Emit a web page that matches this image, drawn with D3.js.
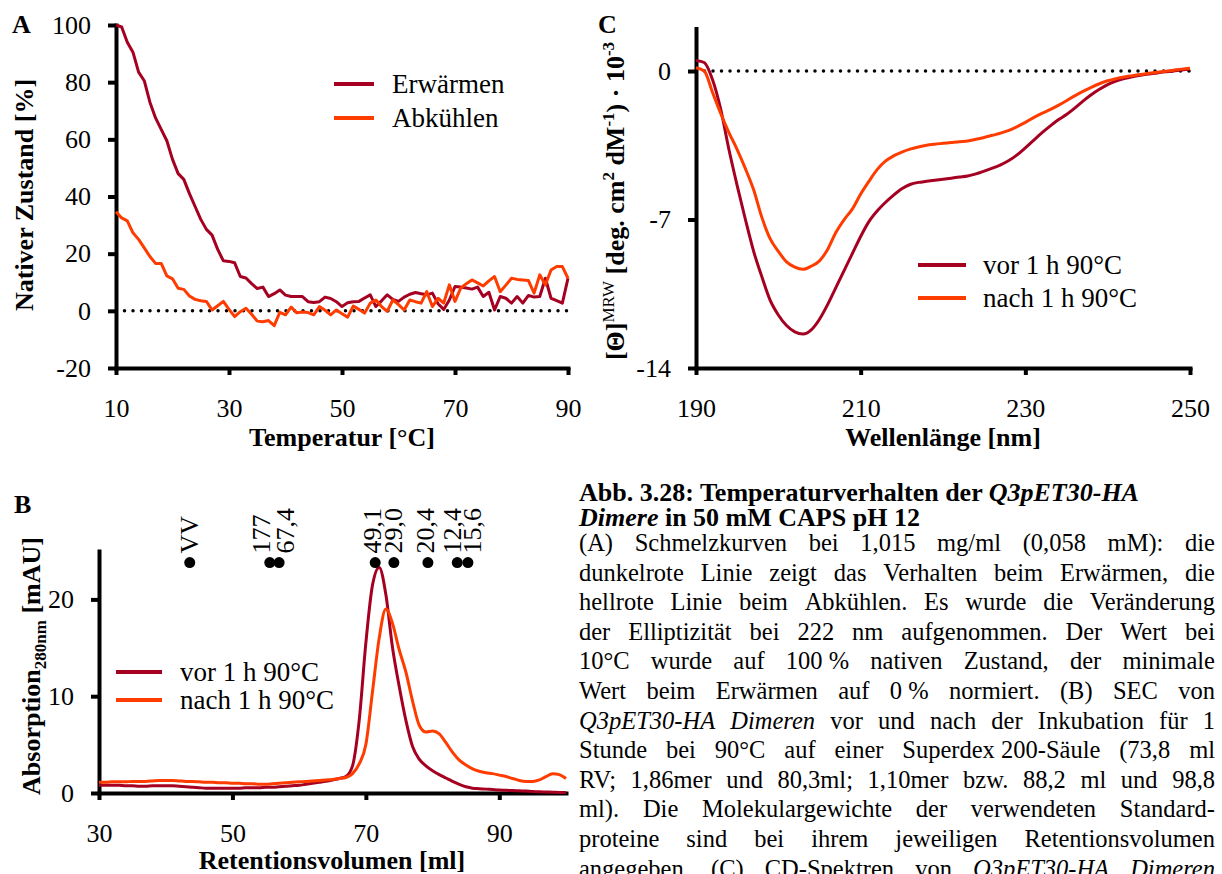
<!DOCTYPE html>
<html>
<head>
<meta charset="utf-8">
<script src="https://cdn.jsdelivr.net/npm/d3@7"></script>
<style>
  body { margin: 0; background: #fff; }
  svg { display: block; font-family: "Liberation Serif", "Times New Roman", serif; }
</style>
</head>
<body>
<svg id="fig" width="1222" height="874"></svg>
<script>
// ---- panel A: melting curves ----
const tempA = [10,11,12,13,14,15,16,17,18,19,20,21,22,23,24,25,26,27,28,29,30,31,32,33,34,35,36,37,38,39,
  40,41,42,43,44,45,46,47,48,49,50,51,52,53,54,55,56,57,58,59,60,61,62,63,64,65,66,67,68,69,
  70,71,72,73,74,75,76,77,78,79,80,81,82,83,84,85,86,87,88,89,90];
const warmA = [100,99.3,94,90.5,83.5,80.5,73,67.5,63.5,59.5,
  53,48,46,41,36.5,32,28.5,26.5,21.5,17.5,
  17.3,16.8,12,11.5,9.5,7.8,8.3,5,6,7.3,
  5.5,5,5,5,3.2,2.9,3.2,4.8,4.3,3.2,
  1.5,2.8,3.2,3.3,4.5,5.6,1.5,3.5,5.6,4,
  3.3,4.8,5.8,6.4,6,5.6,6.2,2.5,0.5,3.8,
  8.5,8.3,8,7.6,8.3,5,6.5,0.3,5,4.4,
  2.7,5,2.7,5.4,4.8,5,11.4,4.4,3.6,2.7,
  11.4];
const coolA = [34.7,32.5,31.5,27.3,25,22,19,16.6,16.6,12.2,
  11.2,7.9,7.5,5.2,4,3.5,3.3,0.3,1.8,3.3,
  0.5,-2,-0.3,0.9,-1.2,-3.6,-3.8,-3.4,-5.2,-0.5,
  -1.4,1.3,-0.7,-0.4,-0.6,-1.4,1.5,0.2,-1.4,0.3,
  -1,-2.2,1.7,0.5,-0.8,2.7,3.8,1.5,-0.2,3.8,
  2.2,0.3,3.8,3.2,2.7,6.7,1.5,4.4,2.7,9.1,
  3.3,7.9,9.5,10.8,9.8,8.7,10.5,12,6.7,9,
  11.4,11,10.8,10.6,6.2,12.6,9.1,14.3,15.5,15.5,
  11.4];
const ticksAx = [10,30,50,70,90];
const ticksAy = [-20,0,20,40,60,80,100];
const legendA = ["Erwärmen","Abkühlen"];

// ---- panel C: CD spectra ----
const wlC = [190,191,192,193,194,195,196,197,198,199,200,201,202,203,204,205,206,207,208,209,
  210,211,212,213,214,215,216,217,218,219,220,221,222,223,224,225,226,227,228,229,
  230,231,232,233,234,235,236,237,238,239,240,241,242,243,244,245,246,247,248,249,250];
const cdBefore = [0.5,0.4,-0.4,-1.8,-3.7,-5.4,-7.0,-8.5,-9.7,-10.8,
  -11.5,-12.0,-12.3,-12.4,-12.2,-11.7,-11.0,-10.2,-9.4,-8.6,
  -7.8,-7.1,-6.6,-6.2,-5.85,-5.55,-5.35,-5.25,-5.2,-5.15,
  -5.1,-5.05,-5.0,-4.95,-4.85,-4.72,-4.58,-4.42,-4.22,-3.95,
  -3.62,-3.27,-2.92,-2.6,-2.3,-2.05,-1.75,-1.42,-1.12,-0.86,
  -0.64,-0.48,-0.36,-0.27,-0.2,-0.14,-0.09,-0.04,0.0,0.05,
  0.08];
const cdAfter = [0.15,0.0,-1.0,-2.0,-2.9,-3.7,-4.6,-5.6,-6.9,-7.9,
  -8.5,-9.0,-9.25,-9.35,-9.2,-8.95,-8.4,-7.6,-7.0,-6.5,
  -5.8,-5.2,-4.65,-4.25,-4.0,-3.82,-3.68,-3.58,-3.5,-3.45,
  -3.41,-3.37,-3.33,-3.3,-3.22,-3.13,-3.03,-2.93,-2.8,-2.62,
  -2.42,-2.2,-2.0,-1.82,-1.62,-1.4,-1.17,-0.96,-0.77,-0.6,
  -0.46,-0.36,-0.28,-0.22,-0.16,-0.11,-0.06,-0.01,0.04,0.09,
  0.13];
const ticksCx = [190,210,230,250];
const ticksCy = [0,-7,-14];

// ---- panel B: SEC ----
const volB = [30,31,32,33,34,35,36,37,38,39,40,41,42,43,44,45,46,47,48,49,
  50,51,52,53,54,55,56,57,58,59,60,61,62,63,64,65,66,67,68,69,
  70,71,72,73,74,75,76,77,78,79,80,81,82,83,84,85,86,87,88,89,
  90,91,92,93,94,95,96,97,98,99,100];
const secBefore = [0.8,0.8,0.8,0.8,0.75,0.75,0.7,0.7,0.75,0.75,
  0.75,0.75,0.7,0.65,0.6,0.55,0.5,0.5,0.5,0.5,
  0.5,0.5,0.55,0.55,0.55,0.6,0.6,0.65,0.7,0.75,
  0.8,0.9,1.0,1.1,1.2,1.35,1.5,1.7,2.8,7.5,
  15.5,21.5,23.3,20.5,15,11,7.5,4.8,3.5,2.8,
  2.3,1.9,1.55,1.2,0.9,0.65,0.5,0.45,0.4,0.35,
  0.3,0.28,0.25,0.22,0.2,0.15,0.12,0.1,0.08,0.05,
  0.05];
const secAfter = [1.1,1.1,1.15,1.15,1.15,1.2,1.2,1.2,1.25,1.3,
  1.3,1.3,1.25,1.2,1.2,1.15,1.1,1.1,1.05,1.05,
  1.0,1.0,0.95,0.95,0.9,0.9,0.95,1.0,1.05,1.1,
  1.15,1.2,1.25,1.3,1.35,1.4,1.5,1.6,2.0,3.0,
  5.0,10.5,16.0,19.0,17.5,14.8,12.5,9.5,7.0,6.3,
  6.4,6.1,5.2,4.2,3.4,2.9,2.5,2.25,2.1,2.0,
  1.85,1.7,1.5,1.3,1.2,1.2,1.35,1.7,2.0,1.9,
  1.5];
const ticksBx = [30,50,70,90];
const ticksBy = [0,10,20];
const mwLabels = ["VV","177","67,4","49,1","29,0","20,4","12,4","15,6"];
const mwVolume = [43.6,55.6,57.0,71.4,74.2,79.3,83.7,85.3];
const mwLevel = 23.8;
const legendHeat = ["vor 1 h 90°C","nach 1 h 90°C"];

// ---- caption ----
const captionTitle = [
  "Abb. 3.28: Temperaturverhalten der *Q3pET30-HA*",
  "*Dimere* in 50 mM CAPS pH 12"
];
const captionBody = [
  "(A) Schmelzkurven bei 1,015 mg/ml (0,058 mM): die",
  "dunkelrote Linie zeigt das Verhalten beim Erwärmen, die",
  "hellrote Linie beim Abkühlen. Es wurde die Veränderung",
  "der Elliptizität bei 222 nm aufgenommen. Der Wert bei",
  "10°C wurde auf 100\u00A0% nativen Zustand, der minimale",
  "Wert beim Erwärmen auf 0\u00A0% normiert. (B) SEC von",
  "*Q3pET30-HA* *Dimeren* vor und nach der Inkubation für 1",
  "Stunde bei 90°C auf einer Superdex\u00A0200-Säule (73,8 ml",
  "RV; 1,86mer und 80,3ml; 1,10mer bzw. 88,2 ml und 98,8",
  "ml). Die Molekulargewichte der verwendeten Standard-",
  "proteine sind bei ihrem jeweiligen Retentionsvolumen",
  "angegeben. (C) CD-Spektren von *Q3pET30-HA* *Dimeren*"
];

const darkRed = "#A50021";
const orange  = "#FF3C00";
const serif   = "Liberation Serif, Times New Roman, serif";
const fs      = 26;

const svg = d3.select("#fig");

function styleAxis(g) {
  g.attr("font-size", fs).attr("font-family", serif);
  g.select(".domain").attr("stroke", "#000").attr("stroke-width", 4).attr("stroke-linecap", "square");
  g.selectAll(".tick line").attr("stroke", "#000").attr("stroke-width", 4);
  g.selectAll(".tick text").attr("fill", "#000");
}

function drawLegend(labels, colors, x0, x1, xt, ys) {
  labels.forEach((lab, i) => {
    svg.append("line").attr("x1", x0).attr("x2", x1).attr("y1", ys[i]).attr("y2", ys[i])
      .attr("stroke", colors[i]).attr("stroke-width", 4);
    svg.append("text").attr("x", xt).attr("y", ys[i]).attr("dy", "0.33em")
      .attr("font-size", 27).text(lab);
  });
}

function zeroLine(x, y, a, b) {
  svg.append("line").attr("x1", x(a)).attr("x2", x(b)).attr("y1", y(0)).attr("y2", y(0))
    .attr("stroke", "#000").attr("stroke-width", 3.5)
    .attr("stroke-linecap", "round").attr("stroke-dasharray", "0 8.5");
}

// ================= Panel A =================
let xA = d3.scaleLinear().domain([10, 90]).range([116, 568]);
let yA = d3.scaleLinear().domain([-20, 100]).range([368, 25]);

zeroLine(xA, yA, 10, 90);

svg.append("g").attr("transform", "translate(116,0)")
  .call(d3.axisLeft(yA).tickValues(ticksAy).tickSize(8).tickPadding(17).tickSizeOuter(0).tickFormat(String))
  .call(styleAxis);
svg.append("g").attr("transform", "translate(0,368)")
  .call(d3.axisBottom(xA).tickValues(ticksAx).tickSize(7).tickPadding(24).tickSizeOuter(0).tickFormat(String))
  .call(styleAxis);

let lineA = d3.line().x((d, i) => xA(tempA[i])).y(d => yA(d));
svg.append("path").attr("fill", "none").attr("stroke", darkRed).attr("stroke-width", 3)
  .attr("stroke-linejoin", "round").attr("d", lineA(warmA));
svg.append("path").attr("fill", "none").attr("stroke", orange).attr("stroke-width", 3)
  .attr("stroke-linejoin", "round").attr("d", lineA(coolA));

drawLegend(legendA, [darkRed, orange], 334, 374, 392, [84, 118]);

svg.append("text").attr("x", 12).attr("y", 33).attr("font-size", fs).attr("font-weight", "bold").text("A");
svg.append("text").attr("transform", "translate(33,195) rotate(-90)").attr("text-anchor", "middle")
  .attr("font-size", fs).attr("font-weight", "bold").text("Nativer Zustand [%]");
svg.append("text").attr("x", 342).attr("y", 446).attr("text-anchor", "middle")
  .attr("font-size", fs).attr("font-weight", "bold").text("Temperatur [°C]");

// ================= Panel C =================
let xC = d3.scaleLinear().domain([190, 250]).range([696, 1190]);
let yC = d3.scaleLinear().domain([-14, 2]).range([368, 28.6]);

zeroLine(xC, yC, 190, 250);

svg.append("g").attr("transform", "translate(696,0)")
  .call(d3.axisLeft(yC).tickValues(ticksCy).tickSize(8).tickPadding(17).tickSizeOuter(0).tickFormat(String))
  .call(styleAxis);
svg.append("g").attr("transform", "translate(0,368)")
  .call(d3.axisBottom(xC).tickValues(ticksCx).tickSize(7).tickPadding(24).tickSizeOuter(0).tickFormat(String))
  .call(styleAxis);

let lineC = d3.line().x((d, i) => xC(wlC[i])).y(d => yC(d)).curve(d3.curveMonotoneX);
svg.append("path").attr("fill", "none").attr("stroke", darkRed).attr("stroke-width", 3)
  .attr("d", lineC(cdBefore));
svg.append("path").attr("fill", "none").attr("stroke", orange).attr("stroke-width", 3)
  .attr("d", lineC(cdAfter));

drawLegend(legendHeat, [darkRed, orange], 918, 966, 983, [265, 298]);

svg.append("text").attr("x", 598).attr("y", 33).attr("font-size", fs).attr("font-weight", "bold").text("C");
let tC = svg.append("text").attr("transform", "translate(624,201) rotate(-90)").attr("text-anchor", "middle")
  .attr("font-size", fs).attr("font-weight", "bold");
tC.append("tspan").text("[Θ]");
tC.append("tspan").attr("font-size", 17).attr("font-weight", "normal").attr("dy", -10).text("MRW");
tC.append("tspan").attr("dy", 10).text(" [deg. cm");
tC.append("tspan").attr("font-size", 17).attr("dy", -10).text("2");
tC.append("tspan").attr("dy", 10).text(" dM");
tC.append("tspan").attr("font-size", 17).attr("dy", -10).text("-1");
tC.append("tspan").attr("dy", 10).text(") · 10");
tC.append("tspan").attr("font-size", 17).attr("dy", -10).text("-3");

svg.append("text").attr("x", 943).attr("y", 446).attr("text-anchor", "middle")
  .attr("font-size", fs).attr("font-weight", "bold").text("Wellenlänge [nm]");

// ================= Panel B =================
let xB = d3.scaleLinear().domain([30, 100]).range([99, 566]);
let yB = d3.scaleLinear().domain([0, 25]).range([793, 551]);

svg.append("g").attr("transform", "translate(99,0)")
  .call(d3.axisLeft(yB).tickValues(ticksBy).tickSize(8).tickPadding(17).tickSizeOuter(0).tickFormat(String))
  .call(styleAxis);
svg.append("g").attr("transform", "translate(0,793)")
  .call(d3.axisBottom(xB).tickValues(ticksBx).tickSize(7).tickPadding(24).tickSizeOuter(0).tickFormat(String))
  .call(styleAxis);

let lineB = d3.line().x((d, i) => xB(volB[i])).y(d => yB(d)).curve(d3.curveMonotoneX);
svg.append("path").attr("fill", "none").attr("stroke", darkRed).attr("stroke-width", 3)
  .attr("d", lineB(secBefore));
svg.append("path").attr("fill", "none").attr("stroke", orange).attr("stroke-width", 3)
  .attr("d", lineB(secAfter));

// molecular weight standards (labels nudged apart where dots crowd)
const mwNudge = [0, -8, 6, -3, 0, -2, -5, 5];
svg.selectAll(".mw-dot").data(mwVolume).enter().append("circle")
  .attr("class", "mw-dot").attr("cx", d => xB(d)).attr("cy", yB(mwLevel)).attr("r", 5.5).attr("fill", "#000");
svg.selectAll(".mw-label").data(mwVolume).enter().append("text")
  .attr("class", "mw-label")
  .attr("transform", (d, i) => "translate(" + (xB(d) + mwNudge[i] + 8.5) + "," + (yB(mwLevel) - 9) + ") rotate(-90)")
  .attr("font-size", fs)
  .text((d, i) => mwLabels[i]);

drawLegend(legendHeat, [darkRed, orange], 116, 162, 180, [672, 700]);

svg.append("text").attr("x", 14).attr("y", 513).attr("font-size", fs).attr("font-weight", "bold").text("B");
let tB = svg.append("text").attr("transform", "translate(40,666) rotate(-90)").attr("text-anchor", "middle")
  .attr("font-size", fs).attr("font-weight", "bold");
tB.append("tspan").text("Absorption");
tB.append("tspan").attr("font-size", 17).attr("dy", 6).text("280nm");
tB.append("tspan").attr("dy", -6).text(" [mAU]");

svg.append("text").attr("x", 332).attr("y", 869).attr("text-anchor", "middle")
  .attr("font-size", fs).attr("font-weight", "bold").text("Retentionsvolumen [ml]");

// ================= Caption =================
const capX0 = 579, capX1 = 1215;
let cap = svg.append("g").attr("font-size", fs).style("white-space", "pre");

captionTitle.forEach((line, li) => {
  let t = cap.append("text").attr("x", capX0).attr("y", 501 + li * 24.5).attr("font-weight", "bold");
  line.split("*").forEach((part, i) => {
    if (part.length) t.append("tspan").attr("font-style", i % 2 ? "italic" : null).text(part);
  });
});

captionBody.forEach((line, li) => {
  let y = 551 + li * 29.6;
  let words = line.split(" ").filter(w => w.length);
  let nodes = words.map(w => {
    let it = w.startsWith("*") && w.endsWith("*");
    return cap.append("text").attr("y", y).attr("font-size", 24.5).attr("font-style", it ? "italic" : null)
      .text(it ? w.slice(1, -1) : w);
  });
  let widths = nodes.map(n => n.node().getComputedTextLength());
  let gap = (capX1 - capX0 - d3.sum(widths)) / (words.length - 1);
  let x = capX0;
  nodes.forEach((n, i) => { n.attr("x", x); x += widths[i] + gap; });
});
</script>
</body>
</html>
